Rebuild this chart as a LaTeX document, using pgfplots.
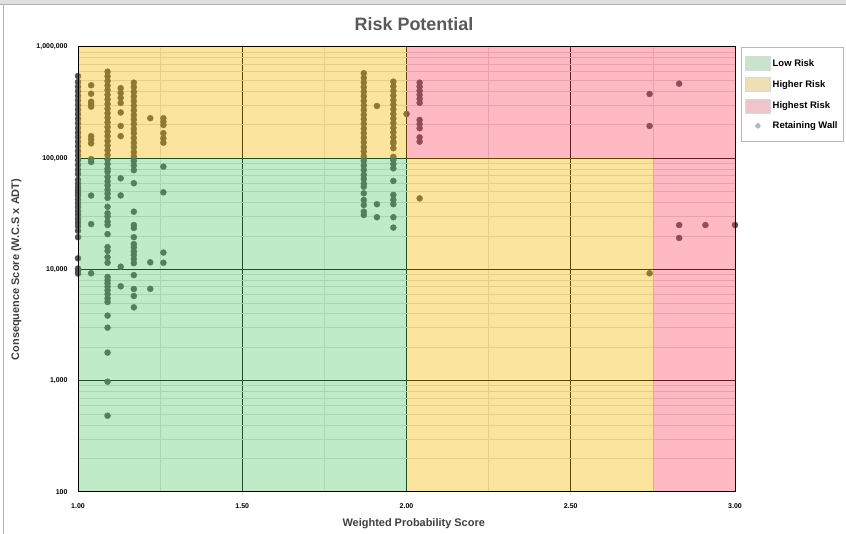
\documentclass[border=0pt]{standalone}
\usepackage{pgfplots}
\pgfplotsset{compat=1.18}
\usepackage{fontspec}
\setmainfont{Liberation Sans}
\definecolor{lowc}{RGB}{89,205,110}
\definecolor{highc}{RGB}{247,189,0}
\definecolor{topc}{RGB}{255,71,97}
\definecolor{dotc}{RGB}{80,80,80}
\definecolor{titlec}{RGB}{89,89,89}
\definecolor{labc}{RGB}{64,64,64}
\pgfplotstableread{
x y
1.00 548000
1.00 484000
1.00 440000
1.00 400000
1.00 364000
1.00 331000
1.00 301000
1.00 274000
1.00 249000
1.00 226000
1.00 206000
1.00 187000
1.00 170000
1.00 155000
1.00 141000
1.00 128000
1.00 116000
1.00 106000
1.00 96000
1.00 87000
1.00 79000
1.00 72000
1.00 64000
1.00 59000
1.00 55000
1.00 51500
1.00 48500
1.00 46000
1.00 42500
1.00 39500
1.00 36500
1.00 33500
1.00 31000
1.00 28500
1.00 26500
1.00 24500
1.00 22300
1.00 19500
1.00 12600
1.00 10200
1.00 9700
1.00 9200
1.04 453000
1.04 380000
1.04 322000
1.04 307000
1.04 291000
1.04 158000
1.04 147000
1.04 136000
1.04 98400
1.04 92500
1.04 46200
1.04 25600
1.04 9250
1.09 600000
1.09 545000
1.09 495000
1.09 450000
1.09 410000
1.09 372000
1.09 338000
1.09 307000
1.09 279000
1.09 254000
1.09 231000
1.09 210000
1.09 191000
1.09 173000
1.09 158000
1.09 143000
1.09 130000
1.09 118000
1.09 107000
1.09 97500
1.09 88600
1.09 80500
1.09 75700
1.09 68000
1.09 62000
1.09 57000
1.09 52000
1.09 48000
1.09 44000
1.09 36600
1.09 32000
1.09 30000
1.09 26900
1.09 25100
1.09 20800
1.09 15900
1.09 14700
1.09 12900
1.09 11500
1.09 8570
1.09 8000
1.09 7500
1.09 7000
1.09 6500
1.09 6000
1.09 5500
1.09 5100
1.09 3850
1.09 3000
1.09 1790
1.09 980
1.09 485
1.13 426000
1.13 386000
1.13 349000
1.13 314000
1.13 258000
1.13 195000
1.13 158000
1.13 66000
1.13 46300
1.13 10600
1.13 7060
1.17 478000
1.17 435000
1.17 395000
1.17 359000
1.17 326000
1.17 297000
1.17 270000
1.17 245000
1.17 223000
1.17 203000
1.17 184000
1.17 168000
1.17 152000
1.17 138000
1.17 126000
1.17 114000
1.17 104000
1.17 94500
1.17 86000
1.17 78000
1.17 59600
1.17 33100
1.17 25100
1.17 23600
1.17 19500
1.17 16900
1.17 15800
1.17 14500
1.17 13500
1.17 12400
1.17 11400
1.17 8900
1.17 6680
1.17 5780
1.17 4570
1.22 229000
1.22 11600
1.22 6700
1.26 229000
1.26 213000
1.26 199000
1.26 168000
1.26 151000
1.26 138000
1.26 84000
1.26 49400
1.26 14200
1.26 11500
1.87 581000
1.87 528000
1.87 480000
1.87 436000
1.87 397000
1.87 361000
1.87 328000
1.87 298000
1.87 271000
1.87 246000
1.87 224000
1.87 204000
1.87 185000
1.87 168000
1.87 153000
1.87 139000
1.87 126000
1.87 115000
1.87 104000
1.87 95000
1.87 86000
1.87 78500
1.87 71000
1.87 65000
1.87 59000
1.87 55500
1.87 48400
1.87 42200
1.87 38000
1.87 33100
1.87 30900
1.91 295000
1.91 38600
1.91 29500
1.96 488000
1.96 443000
1.96 403000
1.96 366000
1.96 333000
1.96 303000
1.96 275000
1.96 250000
1.96 227000
1.96 207000
1.96 188000
1.96 171000
1.96 155000
1.96 141000
1.96 136000
1.96 123000
1.96 103000
1.96 96400
1.96 88700
1.96 81200
1.96 62500
1.96 46800
1.96 42200
1.96 38600
1.96 29500
1.96 23800
2.00 250000
2.04 478000
2.04 440000
2.04 405000
2.04 372000
2.04 342000
2.04 315000
2.04 221000
2.04 203000
2.04 186000
2.04 154000
2.04 141000
2.04 43600
2.74 378000
2.74 195000
2.74 9240
2.83 468000
2.83 25100
2.83 19200
2.91 25100
3.00 25100
}\walls
\begin{document}
\begin{tikzpicture}
\useasboundingbox (0,0) rectangle (846bp,534bp);
\fill[white] (0,0) rectangle (846bp,534bp);
\fill[gray!25] (0,530bp) rectangle (846bp,534bp);
\draw[gray!60, line width=0.8bp] (0,529.5bp) -- (846bp,529.5bp);
\draw[gray!60, line width=0.8bp] (3bp,0) -- (3bp,530bp);
\node[font=\fontsize{18}{21}\selectfont\bfseries, text=titlec] at (414bp,510bp) {Risk Potential};
\begin{axis}[
  at={(78bp,42bp)}, anchor=south west,
  scale only axis, width=657bp, height=445bp,
  xmin=1, xmax=3, ymode=log, ymin=100, ymax=1000000,
  clip=false, clip marker paths=true,
  xtick={1,1.5,2,2.5,3}, xticklabels={1.00,1.50,2.00,2.50,3.00},
  minor xtick={1.25,1.75,2.25,2.75},
  ytick={100,1000,10000,100000,1000000},
  yticklabels={100,{1,000},{10,000},{100,000},{1,000,000}},
  minor ytick={200,300,400,500,600,700,800,900,2000,3000,4000,5000,6000,7000,8000,9000,20000,30000,40000,50000,60000,70000,80000,90000,200000,300000,400000,500000,600000,700000,800000,900000},
  grid=both,
  major grid style={black, line width=1bp},
  minor grid style={black!14, line width=0.7bp},
  major tick length=0pt, minor tick length=0pt,
  axis line style={black, line width=1bp},
  tick label style={font=\fontsize{7}{8}\selectfont\bfseries},
  yticklabel style={xshift=-7bp},
  xticklabel style={yshift=-8bp},
  xlabel={Weighted Probability Score},
  ylabel={Consequence Score (W.C.S x ADT)},
  label style={font=\fontsize{11}{13}\selectfont\bfseries, text=labc},
  xlabel style={at={(axis description cs:0.511,-0.072)}, anchor=center},
  ylabel style={at={(axis description cs:-0.094,0.5)}, anchor=center},
  legend style={at={(1.0087,1.0)}, anchor=north west, draw=gray!55, line width=0.8bp, fill=white,
    font=\fontsize{9.5}{11}\selectfont\bfseries, row sep=6.5bp, inner xsep=4bp, inner ysep=9bp,
    cells={anchor=west}},
  legend cell align=left,
]
\addplot[only marks, mark=*, mark size=3bp, color=dotc, forget plot] table[x=x, y=y] {\walls};
\addplot[fill=lowc, fill opacity=0.38, draw=none,
  legend image code/.code={\fill[lowc, fill opacity=0.38] (0bp,-7bp) rectangle (25bp,7bp); \draw[gray!30, line width=0.6bp] (0bp,-7bp) rectangle (25bp,7bp);}]
  coordinates {(1,100) (2,100) (2,100000) (1,100000)} -- cycle;
\addlegendentry{Low Risk}
\addplot[fill=highc, fill opacity=0.38, draw=none,
  legend image code/.code={\fill[highc, fill opacity=0.38] (0bp,-7bp) rectangle (25bp,7bp); \draw[gray!30, line width=0.6bp] (0bp,-7bp) rectangle (25bp,7bp);}]
  coordinates {(1,100000) (2,100000) (2,1000000) (1,1000000)} -- cycle;
\addlegendentry{Higher Risk}
\addplot[fill=highc, fill opacity=0.38, draw=none, forget plot]
  coordinates {(2,100) (2.75,100) (2.75,100000) (2,100000)} -- cycle;
\addplot[fill=topc, fill opacity=0.38, draw=none,
  legend image code/.code={\fill[topc, fill opacity=0.38] (0bp,-7bp) rectangle (25bp,7bp); \draw[gray!30, line width=0.6bp] (0bp,-7bp) rectangle (25bp,7bp);}]
  coordinates {(2,100000) (3,100000) (3,1000000) (2,1000000)} -- cycle;
\addlegendentry{Highest Risk}
\addplot[fill=topc, fill opacity=0.38, draw=none, forget plot]
  coordinates {(2.75,100) (3,100) (3,100000) (2.75,100000)} -- cycle;
\addlegendimage{legend image code/.code={\fill[gray!55] (12.5bp,0bp) circle (2.3bp);}}
\addlegendentry{Retaining Wall}
\draw[black, line width=1bp] (rel axis cs:0,0) rectangle (rel axis cs:1,1);
\end{axis}
\end{tikzpicture}
\end{document}
